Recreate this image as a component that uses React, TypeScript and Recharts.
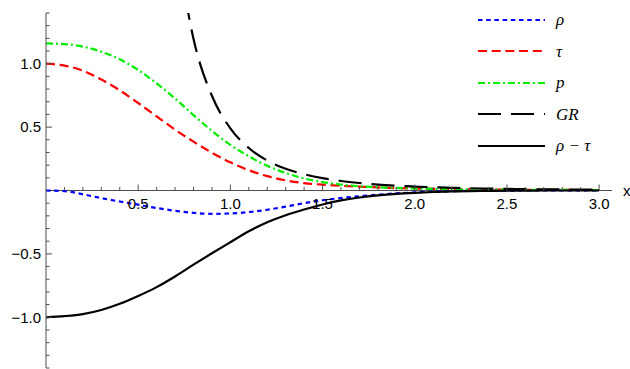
import React from 'react';
import { LineChart, Line, XAxis, YAxis, ReferenceLine, Legend } from 'recharts';

// sample points along x
const xs = [0, 0.1, 0.2, 0.3, 0.4, 0.5, 0.6, 0.7, 0.8, 0.9, 1.0, 1.1, 1.2, 1.3, 1.4, 1.5, 1.6, 1.7, 1.8, 1.9, 2.0, 2.1, 2.2, 2.3, 2.4, 2.5, 2.6, 2.7, 2.8, 2.9, 3.0];

const rho = [0, -0.005, -0.03, -0.06, -0.087, -0.112, -0.138, -0.16, -0.176, -0.184, -0.181, -0.17, -0.152, -0.127, -0.1, -0.077, -0.059, -0.045, -0.033, -0.023, -0.015, -0.009, -0.005, -0.003, -0.002, -0.001, 0, 0, 0, 0, 0];
const tau = [1.0, 0.985, 0.945, 0.875, 0.79, 0.69, 0.585, 0.48, 0.385, 0.298, 0.222, 0.16, 0.113, 0.08, 0.058, 0.046, 0.037, 0.03, 0.024, 0.019, 0.016, 0.013, 0.011, 0.009, 0.008, 0.007, 0.006, 0.005, 0.005, 0.004, 0.004];
const pressure = [1.16, 1.155, 1.135, 1.095, 1.035, 0.95, 0.845, 0.725, 0.595, 0.47, 0.36, 0.27, 0.195, 0.138, 0.095, 0.066, 0.047, 0.034, 0.026, 0.02, 0.016, 0.013, 0.011, 0.009, 0.008, 0.007, 0.006, 0.005, 0.005, 0.004, 0.004];
const gr = [null, null, null, null, null, null, null, 2.04, 1.196, 0.747, 0.49, 0.335, 0.236, 0.172, 0.128, 0.097, 0.075, 0.059, 0.047, 0.038, 0.031, 0.025, 0.021, 0.018, 0.015, 0.013, 0.011, 0.009, 0.008, 0.007, 0.006];
const rhoMinusTau = [-1, -0.991, -0.975, -0.943, -0.894, -0.832, -0.762, -0.678, -0.585, -0.495, -0.408, -0.322, -0.25, -0.195, -0.15, -0.11, -0.078, -0.055, -0.038, -0.026, -0.018, -0.012, -0.008, -0.005, -0.003, -0.002, -0.001, 0, 0, 0, 0];

const xTicks = [0.1, 0.2, 0.3, 0.4, 0.5, 0.6, 0.7, 0.8, 0.9, 1.0, 1.1, 1.2, 1.3, 1.4, 1.5, 1.6, 1.7, 1.8, 1.9, 2.0, 2.1, 2.2, 2.3, 2.4, 2.5, 2.6, 2.7, 2.8, 2.9, 3.0];
const yTicks = [-1.4, -1.3, -1.2, -1.1, -1.0, -0.9, -0.8, -0.7, -0.6, -0.5, -0.4, -0.3, -0.2, -0.1, 0.1, 0.2, 0.3, 0.4, 0.5, 0.6, 0.7, 0.8, 0.9, 1.0, 1.1, 1.2, 1.3, 1.4];

const series = [
  { key: 'rho', label: 'ρ', color: '#0000ff', dash: '4.5 3.7' },
  { key: 'tau', label: 'τ', color: '#ff0000', dash: '9 4.7' },
  { key: 'p', label: 'p', color: '#00ee00', dash: '7 3 2 3' },
  { key: 'gr', label: 'GR', color: '#000000', dash: '23 10' },
  { key: 'diff', label: 'ρ − τ', color: '#000000', dash: undefined },
];

const data = xs.map((x, i) => ({
  x,
  rho: rho[i],
  tau: tau[i],
  p: pressure[i],
  gr: gr[i],
  diff: rhoMinusTau[i],
}));

const W = 630;
const H = 369;
const M = { top: 13, right: 18, bottom: 0, left: 0 };
const X_AXIS_H = 1;
const PLOT_H = H - M.top - M.bottom - X_AXIS_H;
const AXIS = '#4d4d4d';
const FONT = '"Liberation Sans", Arial, sans-serif';

const isMajor = (v: number) => Math.abs(v * 2 - Math.round(v * 2)) < 1e-6;
const fmt = (v: number) => (v < 0 ? '\u2212' : '') + Math.abs(v).toFixed(1);

// x ticks are drawn on the zero line (middle of symmetric y range), pointing up
const XTick = (props: any) => {
  const { x, y, payload } = props;
  const v = payload.value;
  const y0 = y - PLOT_H / 2;
  const major = isMajor(v);
  return (
    <g>
      <line x1={x} x2={x} y1={y0} y2={y0 - (major ? 6 : 3.5)} stroke={AXIS} />
      {major && (
        <text x={x} y={y0 + 18.5} textAnchor="middle" fontSize={15} fontFamily={FONT} fill="#000">
          {fmt(v)}
        </text>
      )}
    </g>
  );
};

// y ticks point inward (right of the axis)
const YTick = (props: any) => {
  const { x, y, payload } = props;
  const v = payload.value;
  const major = isMajor(v);
  return (
    <g>
      <line x1={x} x2={x + (major ? 6 : 3.5)} y1={y} y2={y} stroke={AXIS} />
      {major && (
        <text x={x - 5} y={y + 5.3} textAnchor="end" fontSize={15} fontFamily={FONT} fill="#000">
          {fmt(v)}
        </text>
      )}
    </g>
  );
};

const LegendBox = () => (
  <div>
    {series.map((s) => (
      <div key={s.key} style={{ display: 'flex', alignItems: 'center', height: 31.5 }}>
        <svg width={70} height={6} style={{ display: 'block' }}>
          <line x1={0} y1={3} x2={s.key === 'p' ? 70 : 67} y2={3} stroke={s.color} strokeWidth={2.2} strokeDasharray={s.dash} />
        </svg>
        <span
          style={{
            marginLeft: 8,
            fontFamily: '"Liberation Serif", "Times New Roman", serif',
            fontStyle: 'italic',
            fontSize: 17,
            lineHeight: '17px',
            color: '#000',
            whiteSpace: 'nowrap',
          }}
        >
          {s.label}
        </span>
      </div>
    ))}
  </div>
);

export default function App() {
  return (
    <div>
      <style>{'body{margin:0}'}</style>
      <LineChart width={W} height={H} data={data} margin={M}>
        <XAxis
          type="number"
          dataKey="x"
          domain={[0, 3.07]}
          ticks={xTicks}
          interval={0}
          height={X_AXIS_H}
          axisLine={false}
          tickLine={false}
          tickSize={0}
          tickMargin={0}
          tick={<XTick />}
        />
        <YAxis
          type="number"
          domain={[-1.4, 1.4]}
          allowDataOverflow
          ticks={yTicks}
          interval={0}
          width={46}
          axisLine={{ stroke: AXIS }}
          tickLine={false}
          tickSize={0}
          tickMargin={0}
          tick={<YTick />}
        />
        <ReferenceLine
          y={0}
          stroke={AXIS}
          label={{ value: 'x', position: 'right', offset: 11, fill: '#000', fontSize: 15, fontFamily: FONT }}
        />
        {series.map((s) => (
          <Line
            key={s.key}
            type="monotone"
            dataKey={s.key}
            stroke={s.color}
            strokeWidth={2.2}
            strokeDasharray={s.dash}
            dot={false}
            activeDot={false}
            connectNulls={false}
            isAnimationActive={false}
          />
        ))}
        <Legend
          layout="vertical"
          align="center"
          verticalAlign="middle"
          content={<LegendBox />}
          wrapperStyle={{ top: 4, left: 478, width: 152 }}
        />
      </LineChart>
    </div>
  );
}
